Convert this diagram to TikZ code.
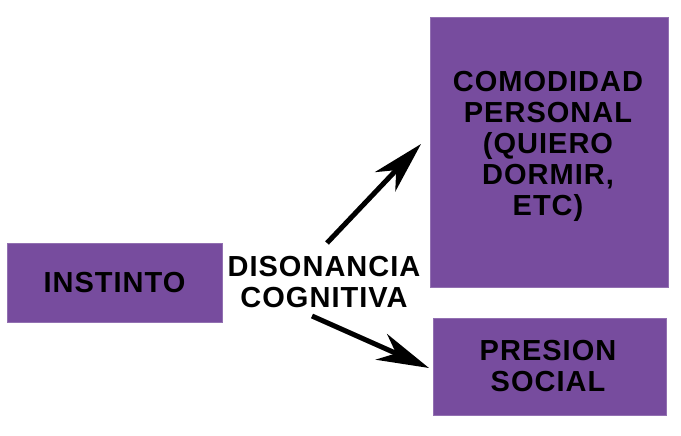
\documentclass[tikz,border=0pt]{standalone}
\usepackage{fontspec}
\setmainfont{Liberation Sans}[LetterSpace=3.5]
\usetikzlibrary{arrows.meta}
\definecolor{boxpurple}{HTML}{774C9E}
\tikzset{
  box/.style={fill=boxpurple, draw=boxpurple!80!white, line width=0.8pt, inner sep=0pt},
  lbl/.style={inner sep=0pt, font=\fontsize{29}{31}\selectfont\bfseries, align=center, text=black},
  arr/.style={line width=5pt, -{Stealth[length=52pt,width=28pt,inset=16pt]}}
}
\begin{document}
\begin{tikzpicture}[x=1pt,y=-1pt]
\useasboundingbox (0,0) rectangle (681,436);
\node[box, minimum width=215pt, minimum height=79pt] (inst) at (114.5,282.5) {};
\node[lbl] (instt) at (114.5,282.5) {INSTINTO};
\node[box, minimum width=238pt, minimum height=270pt] (como) at (549,152) {};
\node[lbl] (comot) at (548,146) {COMODIDAD\\PERSONAL\\(QUIERO\\DORMIR,\\ETC)};
\node[box, minimum width=233pt, minimum height=97pt] (pres) at (549.5,366.5) {};
\node[lbl] (prest) at (548,366) {PRESION\\SOCIAL};
\node[lbl] (dis) at (324,282.5) {DISONANCIA\\COGNITIVA};
\coordinate (u0) at (327,243);
\coordinate (u1) at (421,144);
\coordinate (d0) at (312,316);
\coordinate (d1) at (429,368);
\draw[arr] (u0) -- (u1);
\draw[arr] (d0) -- (d1);
\end{tikzpicture}
\end{document}
